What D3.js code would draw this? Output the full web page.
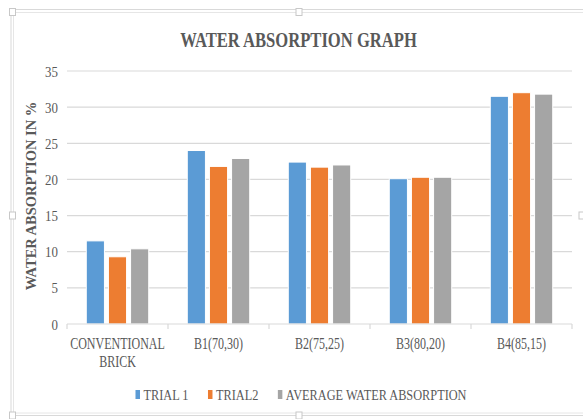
<!DOCTYPE html>
<html>
<head>
<meta charset="utf-8">
<script src="https://cdn.jsdelivr.net/npm/d3@7"></script>
<style>
  body { margin: 0; background: #fff; }
  svg { display: block; }
  text { font-family: "Liberation Serif", "Times New Roman", serif; fill: #595959; }
</style>
</head>
<body>
<svg id="chart" width="583" height="419"></svg>
<script>
// data
var categories = ["CONVENTIONAL\nBRICK", "B1(70,30)", "B2(75,25)", "B3(80,20)", "B4(85,15)"]
var seriesNames = ["TRIAL 1", "TRIAL2", "AVERAGE WATER ABSORPTION"]
var trial1 = [11.5, 24.0, 22.4, 20.1, 31.5]
var trial2 = [9.3, 21.8, 21.7, 20.3, 32.0]
var average = [10.4, 22.9, 22.0, 20.3, 31.8]
var yTicks = [0, 5, 10, 15, 20, 25, 30, 35]
var colors = ["#5b9bd5", "#ed7d31", "#a5a5a5"]

var seriesValues = [trial1, trial2, average]

var svg = d3.select("#chart")

// squeeze text horizontally like the picture does
function squeeze(sel, k) {
  sel.each(function() {
    var w = this.getComputedTextLength()
    d3.select(this).attr("textLength", w * k).attr("lengthAdjust", "spacingAndGlyphs")
  })
}

// chart frame (selection border of the picture)
var frame = svg.append("g")
frame.append("rect").attr("x", 11).attr("y", 9.5).attr("width", 580).attr("height", 406)
  .attr("fill", "none").attr("stroke", "#d9d9d9").attr("stroke-width", 1)
frame.append("rect").attr("x", 13.5).attr("y", 12.5).attr("width", 580).attr("height", 400.5)
  .attr("fill", "none").attr("stroke", "#e6e6e6").attr("stroke-width", 1)
var handles = [[12.5, 11.5], [299, 11.5], [12.5, 215], [582, 215], [299, 415], [12.5, 415]]
frame.selectAll(".h").data(handles).enter().append("rect")
  .attr("x", d => d[0] - 3).attr("y", d => d[1] - 3)
  .attr("width", 6).attr("height", 7)
  .attr("fill", "#fff").attr("stroke", "#c8c8c8").attr("stroke-width", 1)

var x0 = d3.scaleBand().domain(categories).range([67, 572])
var x1 = d3.scaleBand().domain(seriesNames).range([0, x0.bandwidth()])
  .paddingInner(0.18).paddingOuter(0.87)
var y = d3.scaleLinear().domain([0, 35]).range([324, 71])

// gridlines
svg.append("g").selectAll("line").data(yTicks.filter(d => d > 0)).enter().append("line")
  .attr("x1", 67).attr("x2", 572)
  .attr("y1", d => y(d)).attr("y2", d => y(d))
  .attr("stroke", "#d9d9d9").attr("stroke-width", 1.2)

// y tick labels
var yAxis = svg.append("g").attr("transform", "translate(58,0)")
  .call(d3.axisLeft(y).tickValues(yTicks).tickSize(0).tickPadding(0))
yAxis.select(".domain").remove()
yAxis.selectAll("text")
  .attr("x", 0).attr("dy", "0.34em")
  .style("font-family", "Liberation Serif, serif").style("font-size", "15px").attr("fill", "#595959")
squeeze(yAxis.selectAll("text"), 0.86)

// bars
var groups = svg.append("g").selectAll("g").data(categories).enter().append("g")
  .attr("transform", d => "translate(" + x0(d) + ",0)")
groups.selectAll("rect").data((d, i) => seriesNames.map((s, j) => ({ s: s, v: seriesValues[j][i], c: colors[j] })))
  .enter().append("rect")
  .attr("x", d => x1(d.s))
  .attr("width", x1.bandwidth())
  .attr("y", d => y(d.v))
  .attr("height", d => y(0) - y(d.v))
  .attr("fill", d => d.c)
  .attr("stroke", "#fff").attr("stroke-width", 1)

// x axis line and ticks
svg.append("line").attr("x1", 67).attr("x2", 572).attr("y1", y(0)).attr("y2", y(0))
  .attr("stroke", "#d9d9d9").attr("stroke-width", 1.2)
var bounds = categories.map(c => x0(c)).concat([x0.range()[1]])
svg.append("g").selectAll("line").data(bounds).enter().append("line")
  .attr("x1", d => d).attr("x2", d => d).attr("y1", y(0)).attr("y2", y(0) + 5)
  .attr("stroke", "#d9d9d9").attr("stroke-width", 1.2)

// category labels
var xl = svg.append("g").selectAll("text").data(categories).enter().append("text")
  .attr("text-anchor", "middle").style("font-size", "16px")
xl.each(function(d) {
  var t = d3.select(this)
  d.split("\n").forEach((line, i) => {
    t.append("tspan").attr("x", x0(d) + x0.bandwidth() / 2).attr("y", 349 + i * 18).text(line)
  })
})
xl.selectAll("tspan").each(function() {
  var w = this.getComputedTextLength()
  d3.select(this).attr("textLength", w * 0.75).attr("lengthAdjust", "spacingAndGlyphs")
})

// title
var title = svg.append("text").attr("x", 298.5).attr("y", 46.5).attr("text-anchor", "middle")
  .style("font-size", "21px").style("font-weight", "bold").text("WATER ABSORPTION GRAPH")
squeeze(title, 0.79)

// y axis title
svg.append("text").attr("transform", "translate(36,196) rotate(-90)")
  .attr("text-anchor", "middle").style("font-size", "14.5px").style("font-weight", "bold")
  .text("WATER ABSORPTION IN %")

// legend
var legend = svg.append("g")
var lx = 0
seriesNames.forEach((s, j) => {
  var item = legend.append("g").attr("transform", "translate(" + lx + ",0)")
  item.append("rect").attr("x", 0).attr("y", 390).attr("width", 4.5).attr("height", 9).attr("fill", colors[j])
  var t = item.append("text").attr("x", 8).attr("y", 400).style("font-size", "15px").text(s)
  squeeze(t, 0.82)
  lx += 8 + +t.attr("textLength") + 19.5
})
var lw = lx - 19.5
legend.attr("transform", "translate(" + (301 - lw / 2) + ",0)")
</script>
</body>
</html>
